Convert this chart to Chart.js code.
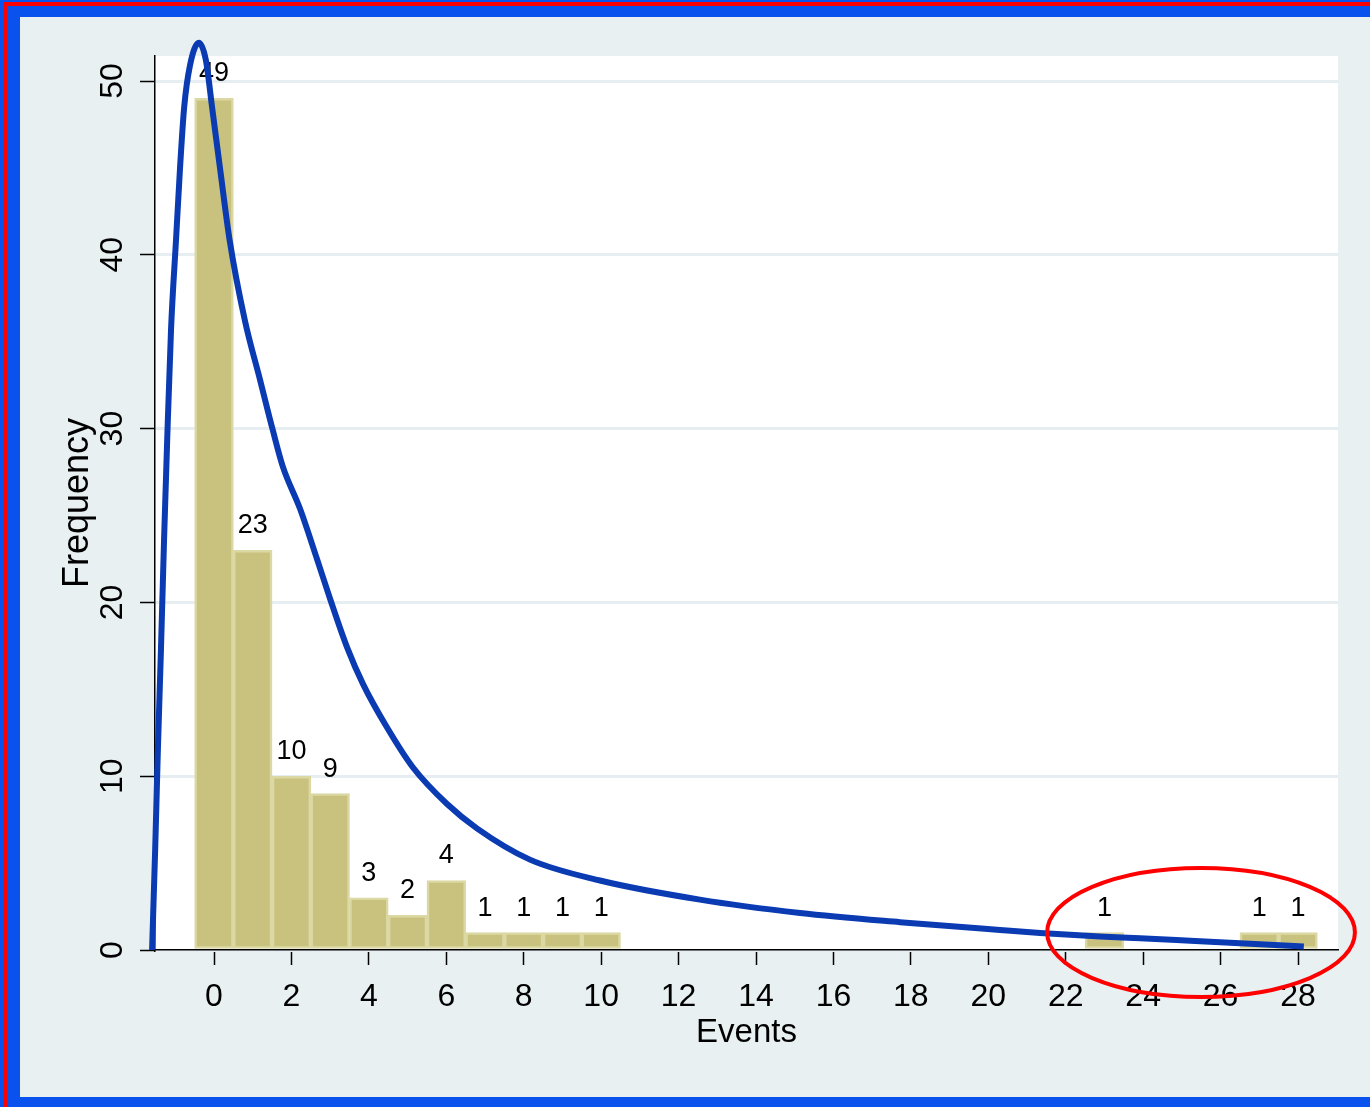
<!DOCTYPE html>
<html><head><meta charset="utf-8">
<script src="https://cdn.jsdelivr.net/npm/chart.js@4/dist/chart.umd.min.js"></script>
<style>
html,body{margin:0;padding:0;background:#0a52ee;}
#frame{position:relative;width:1370px;height:1107px;overflow:hidden;background:#0a52ee;}
#red{position:absolute;left:4px;top:2px;width:3000px;height:3000px;border-left:3px solid #ff0000;border-top:4px solid #ff0000;}
#panel{position:absolute;left:20px;top:17px;width:1350px;height:1080px;background:#e8f0f2;}
canvas{display:block;}
</style></head>
<body><div id="frame"><div id="red"></div><div id="panel"><canvas id="c" width="1350" height="1080"></canvas></div></div>
<script>
// Histogram bins (event counts) and their frequencies
const binCenters  = [0, 1, 2, 3, 4, 5, 6, 7, 8, 9, 10, 23, 27, 28];
const frequencies = [49, 23, 10, 9, 3, 2, 4, 1, 1, 1, 1, 1, 1, 1];

// Overlaid density curve
const curveX = [-1.60, -1.52, -1.45, -1.37, -1.29, -1.21, -1.11, -0.98, -0.88, -0.77, -0.62, -0.39, -0.21, -0.05, 0.16, 0.40, 0.80, 1.19, 1.52, 1.78, 2.22, 2.66, 3.00, 3.44, 3.85, 4.47, 5.14, 6.02, 6.79, 8.16, 9.97, 12.55, 15.14, 17.72, 20.30, 21.34, 22.89, 23.92, 25.47, 28.15];
const curveY = [0, 5.75, 11.5, 17.3, 23.6, 29.3, 35.7, 40.9, 44.9, 48.5, 50.9, 52.2, 51.2, 48.5, 44.9, 40.9, 36.2, 32.8, 29.9, 27.8, 25.4, 22.5, 20.2, 17.4, 15.3, 12.8, 10.5, 8.4, 7.0, 5.2, 4.0, 2.9, 2.13, 1.6, 1.15, 0.98, 0.78, 0.68, 0.5, 0.2];

const xTickValues = [0, 2, 4, 6, 8, 10, 12, 14, 16, 18, 20, 22, 24, 26, 28];
const yTickValues = [0, 10, 20, 30, 40, 50];

const xTitle = 'Events';
const yTitle = 'Frequency';

// highlighted region (data units)
const highlight = {x0: 21.52, x1: 29.47, y0: -2.70, y1: 4.72};

const FONT = "'Liberation Sans', Arial, sans-serif";

const plotBg = {
  id: 'plotBg',
  beforeDraw(chart) {
    const {ctx, chartArea: a} = chart;
    ctx.save();
    ctx.fillStyle = '#ffffff';
    ctx.fillRect(a.left, a.top, a.right - a.left, a.bottom - a.top);
    ctx.restore();
  }
};

const barLabels = {
  id: 'barLabels',
  afterDatasetDraw(chart, args) {
    if (args.meta.type !== 'bar') return;
    const ctx = chart.ctx;
    ctx.save();
    ctx.font = '27px ' + FONT;
    ctx.fillStyle = '#000';
    ctx.textAlign = 'center';
    ctx.textBaseline = 'alphabetic';
    args.meta.data.forEach((bar, i) => {
      ctx.fillText(String(frequencies[i]), bar.x, bar.y - 17);
    });
    ctx.restore();
  }
};

const ellipse = {
  id: 'ellipse',
  afterDraw(chart) {
    const {ctx, scales: {x, y}} = chart;
    const px0 = x.getPixelForValue(highlight.x0), px1 = x.getPixelForValue(highlight.x1);
    const py0 = y.getPixelForValue(highlight.y0), py1 = y.getPixelForValue(highlight.y1);
    ctx.save();
    ctx.strokeStyle = '#ff0000';
    ctx.lineWidth = 4;
    ctx.beginPath();
    ctx.ellipse((px0 + px1) / 2, (py0 + py1) / 2, Math.abs(px1 - px0) / 2, Math.abs(py1 - py0) / 2, 0, 0, Math.PI * 2);
    ctx.stroke();
    ctx.restore();
  }
};

new Chart(document.getElementById('c'), {
  type: 'bar',
  data: {
    datasets: [
      {
        type: 'line',
        data: curveX.map((v, i) => ({x: v, y: curveY[i]})),
        borderColor: '#0a3bb3',
        borderWidth: 6,
        pointRadius: 0,
        cubicInterpolationMode: 'monotone',
        fill: false,
        clip: false,
        order: 0
      },
      {
        type: 'bar',
        data: binCenters.map((v, i) => ({x: v, y: frequencies[i]})),
        backgroundColor: '#c9c27e',
        borderColor: '#dcd8a4',
        borderWidth: 2.5,
        borderSkipped: false,
        barPercentage: 1,
        categoryPercentage: 1,
        order: 1
      }
    ]
  },
  options: {
    responsive: false,
    animation: false,
    events: [],
    layout: {padding: {top: 39, right: 32, left: 0, bottom: 0}},
    plugins: {legend: {display: false}, tooltip: {enabled: false}},
    scales: {
      x: {
        type: 'linear',
        offset: false,
        min: -1.524,
        max: 29.033,
        afterBuildTicks: s => { s.ticks = xTickValues.map(v => ({value: v})); },
        afterFit: s => { s.height = 147; },
        grid: {offset: false, drawOnChartArea: false, drawTicks: true, tickLength: 15, tickColor: '#000', tickWidth: 1.5},
        border: {display: true, color: '#000', width: 1.5},
        ticks: {color: '#000', font: {family: FONT, size: 32}, padding: 13, maxRotation: 0, autoSkip: false},
        title: {display: true, text: xTitle, color: '#000', font: {family: FONT, size: 33}, padding: {top: 0, bottom: 44}}
      },
      y: {
        type: 'linear',
        min: 0,
        max: 51.44,
        afterBuildTicks: s => { s.ticks = yTickValues.map(v => ({value: v})); },
        afterFit: s => { s.width = 135; },
        grid: {color: '#e6eef1', lineWidth: 3, drawTicks: true, tickLength: 15, tickColor: '#000', tickWidth: 1.5},
        border: {display: true, color: '#000', width: 1.5},
        ticks: {color: '#000', font: {family: FONT, size: 32}, padding: 9, minRotation: 90, maxRotation: 90, crossAlign: 'center'},
        title: {display: true, text: yTitle, color: '#000', font: {family: FONT, size: 36}, padding: {top: 36, bottom: 0}}
      }
    }
  },
  plugins: [plotBg, barLabels, ellipse]
});
</script>
</body></html>
